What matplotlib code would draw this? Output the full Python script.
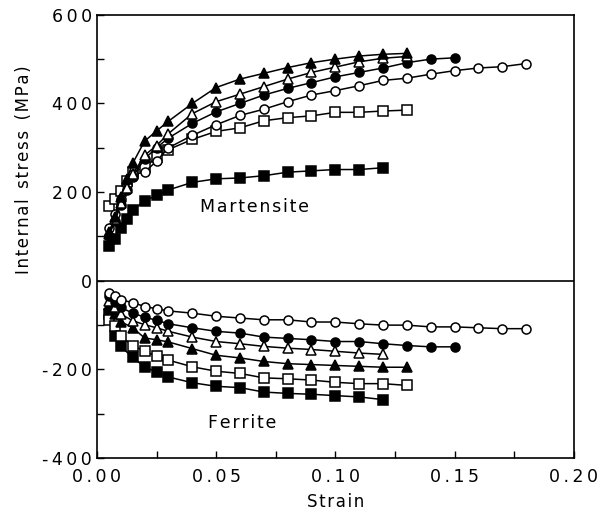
import matplotlib
matplotlib.use("Agg")
import matplotlib.pyplot as plt
from matplotlib.ticker import MultipleLocator, FuncFormatter

plt.rcParams['font.family'] = ['DejaVu Sans']

# Martensite (upper half)
m_strain = [0.005, 0.0075, 0.01, 0.0125, 0.015, 0.02, 0.025, 0.03, 0.04, 0.05,
            0.06, 0.07, 0.08, 0.09, 0.10, 0.11, 0.12, 0.13, 0.14, 0.15, 0.16, 0.17, 0.18]
m_tri_f = [105, 145, 190, 230, 265, 315, 338, 360, 400, 436, 455, 468, 481, 492, 500, 507, 511, 513]
m_tri_o = [110, 140, 175, 210, 240, 283, 305, 332, 377, 404, 421, 438, 455, 470, 482, 494, 502, 506]
m_cir_f = [100, 135, 170, 205, 235, 275, 300, 322, 355, 381, 400, 419, 434, 447, 460, 470, 480, 492, 500, 503]
m_cir_o = [120, 150, 185, 215, 240, 245, 270, 300, 328, 352, 373, 387, 404, 419, 429, 440, 452, 457, 466, 474, 480, 483, 490]
m_sq_o = [169, 184, 203, 225, 245, 256, 279, 296, 319, 337, 345, 361, 368, 372, 380, 380, 383, 385]
m_sq_f = [78, 95, 120, 140, 160, 180, 193, 205, 222, 230, 232, 237, 245, 248, 251, 251, 255]

# Ferrite (lower half)
f_strain = [0.005, 0.0075, 0.01, 0.015, 0.02, 0.025, 0.03, 0.04, 0.05, 0.06, 0.07,
            0.08, 0.09, 0.10, 0.11, 0.12, 0.13, 0.14, 0.15, 0.16, 0.17, 0.18]
f_cir_o = [-28, -35, -43, -49, -58, -63, -68, -73, -80, -84, -88,
           -88, -93, -93, -97, -100, -100, -104, -104, -106, -108, -108]
f_cir_f = [-35, -48, -60, -73, -82, -89, -97, -106, -114, -118, -127,
           -130, -133, -137, -137, -142, -146, -149, -149]
f_tri_o = [-45, -60, -75, -90, -99, -106, -114, -127, -137, -142, -148,
           -152, -155, -159, -163, -166]
f_tri_f = [-55, -75, -92, -106, -129, -133, -138, -153, -168, -174, -182,
           -187, -189, -191, -193, -195, -195]
f_sq_o = [-88, -103, -125, -146, -159, -170, -179, -194, -204, -209, -219,
          -221, -224, -229, -232, -232, -236]
f_sq_f = [-75, -125, -148, -173, -194, -206, -217, -230, -238, -241, -251,
          -254, -256, -259, -262, -268]


def spaced(s, gap='\u200a'):
    # the original typesetting has loose letter spacing
    return gap.join(s)


fig = plt.figure(figsize=(6.02, 5.29), dpi=100)
ax = fig.add_axes([0.161, 0.134, 0.792, 0.838])

series = [
    (m_strain, m_sq_f, 's', 'black'),
    (m_strain, m_sq_o, 's', 'white'),
    (m_strain, m_cir_o, 'o', 'white'),
    (m_strain, m_cir_f, 'o', 'black'),
    (m_strain, m_tri_o, '^', 'white'),
    (m_strain, m_tri_f, '^', 'black'),
    (f_strain, f_sq_f, 's', 'black'),
    (f_strain, f_sq_o, 's', 'white'),
    (f_strain, f_tri_f, '^', 'black'),
    (f_strain, f_tri_o, '^', 'white'),
    (f_strain, f_cir_f, 'o', 'black'),
    (f_strain, f_cir_o, 'o', 'white'),
]
for xs, ys, mk, fc in series:
    ax.plot(xs[:len(ys)], ys, color='black', lw=1.1, marker=mk, ms=6.5,
            mfc=fc, mec='black', mew=1.1)

ax.axhline(0, color='black', lw=1.2)

ax.text(0.066, 166, spaced('Martensite'), fontsize=12.5, ha='center', va='center')
ax.text(0.061, -320, spaced('Ferrite'), fontsize=12.5, ha='center', va='center')

ax.set_xlim(0, 0.20)
ax.set_ylim(-400, 600)
ax.xaxis.set_major_locator(MultipleLocator(0.05))
ax.xaxis.set_minor_locator(MultipleLocator(0.025))
ax.yaxis.set_major_locator(MultipleLocator(200))
ax.yaxis.set_minor_locator(MultipleLocator(100))
ax.tick_params(which='both', direction='in', top=False, right=False, labelsize=12.5)
ax.tick_params(which='both', length=5, width=1)
ax.tick_params(axis='x', pad=7)
ax.xaxis.set_major_formatter(FuncFormatter(lambda v, p: spaced('%.2f' % v, '\u2009')))
ax.yaxis.set_major_formatter(FuncFormatter(lambda v, p: spaced('%d' % round(v), '\u2009')))
for sp in ax.spines.values():
    sp.set_linewidth(1.2)

ax.set_xlabel(spaced('Strain'), fontsize=12, labelpad=5)
ax.set_ylabel(spaced('Internal') + '  ' + spaced('stress') + '  ' + spaced('(MPa)'),
              fontsize=12)
ax.yaxis.set_label_coords(-0.135, 0.65)

fig.savefig('out.png', dpi=100)
